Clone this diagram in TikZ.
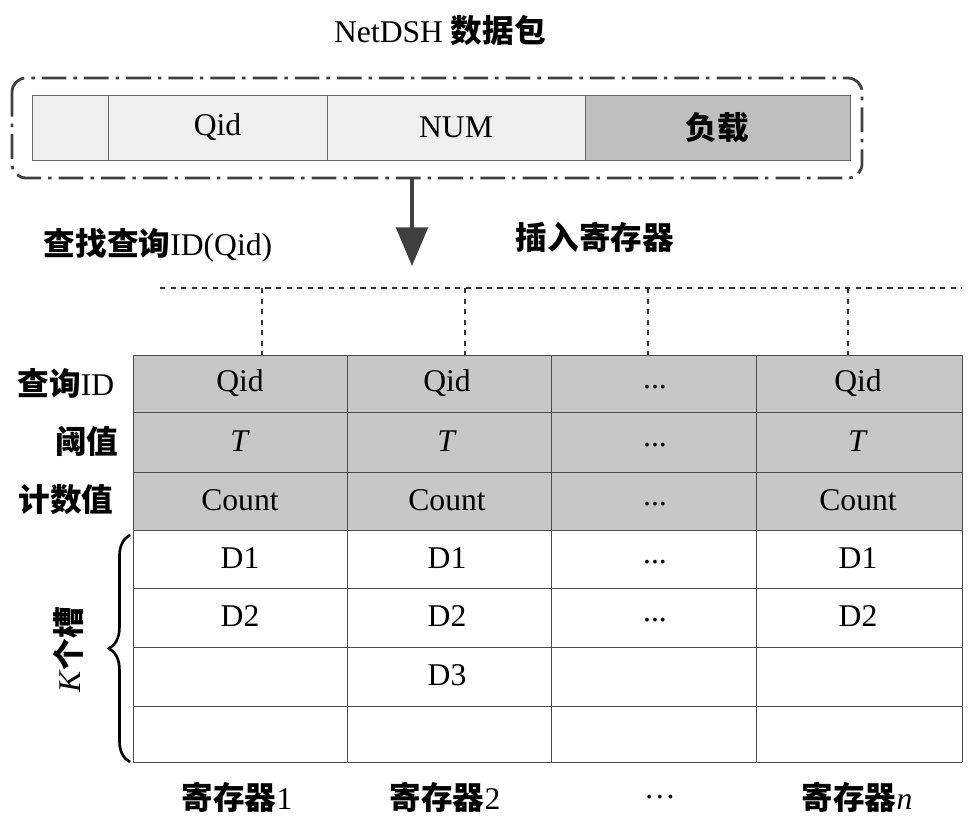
\documentclass[tikz,border=0pt]{standalone}
\usepackage{fontspec}
\setmainfont{Liberation Serif}
\newfontfamily\cjk{Noto Sans CJK SC}
\usetikzlibrary{arrows.meta,decorations.pathreplacing}

\begin{document}
\begin{tikzpicture}[x=0.02cm,y=-0.02cm]
        \tikzset{every node/.style={font=\fontsize{18}{20}\selectfont, inner sep=0pt}}
        \tikzset{pkt/.style={fill=black!6, draw=black!60}}
        \useasboundingbox (0,0) rectangle (971,819);
        \node (title) at (440,30) {NetDSH {\cjk\bfseries 数据包}};
        % packet
        \draw [line width=1.6pt, black!75, dash pattern=on 14pt off 4pt on 2pt off 4pt, rounded corners=8pt] (12,78) rectangle (862,178);
        \draw [pkt] (32,95) rectangle (108,160);
        \draw [pkt] (108,95) rectangle node (pq) {Qid} (327,160);
        \draw [pkt] (327,95) rectangle node (pn) {NUM} (585,160);
        \draw [pkt, fill=black!25] (585,95) rectangle node (pl) {\cjk\bfseries 负载} (850,160);
        \coordinate (ain) at (412,178);
        \coordinate (aout) at (412,266);
        \draw [-{Triangle[length=22pt,width=18pt]}, line width=2pt, black!75] (ain) -- (aout);
        \node (find) at (158,245) {{\cjk\bfseries 查找查询}ID(Qid)};
        \node (ins) at (595,237) {\cjk\bfseries 插入寄存器};
        % register table
        \draw [dashed, line width=1pt, black!80] (160,288) -- (962,288);
        \foreach \x in {262,465,648,848}
            \draw [dashed, line width=1pt, black!80] (\x,288) -- (\x,355);
        \fill [black!22] (133,355) rectangle (962,530);
        \foreach \y in {355,412,472,530,588,647,706,762}
            \draw [black!70] (133,\y) -- (962,\y);
        \foreach \x in {133,347,551,756,962}
            \draw [black!70] (\x,355) -- (\x,762);
        \foreach \x/\n in {240/1,447/2,858/4} {
            \node (q\n) at (\x,383) {Qid};
            \node (t\n) at (\x,441) {\textit{T}};
            \node (c\n) at (\x,500) {Count};
            \node (a\n) at (\x,558) {D1};
            \node (b\n) at (\x,616) {D2};
        }
        \node (d3) at (447,675) {D3};
        \foreach \y/\n in {383/q,441/t,500/c,558/a,616/b}
            \node (\n3) at (655,\y+4) {...};
        \node (lq) at (66,383) {{\cjk\bfseries 查询}ID};
        \node (lt) at (87,441) {\cjk\bfseries 阈值};
        \node (lc) at (66,500) {\cjk\bfseries 计数值};
        \draw [decorate, decoration={brace, amplitude=12pt}, line width=1.5pt] (130,762) -- (130,535);
        \node [rotate=90] (slots) at (68,650) {\textit{K}{\cjk\bfseries 个槽}};
        \node (r1) at (237,797) {{\cjk\bfseries 寄存器}1};
        \node (r2) at (445,797) {{\cjk\bfseries 寄存器}2};
        \node (r3) at (660,797) {\dots};
        \node (rn) at (857,797) {{\cjk\bfseries 寄存器}\textit{n}};
\end{tikzpicture}
\end{document}
